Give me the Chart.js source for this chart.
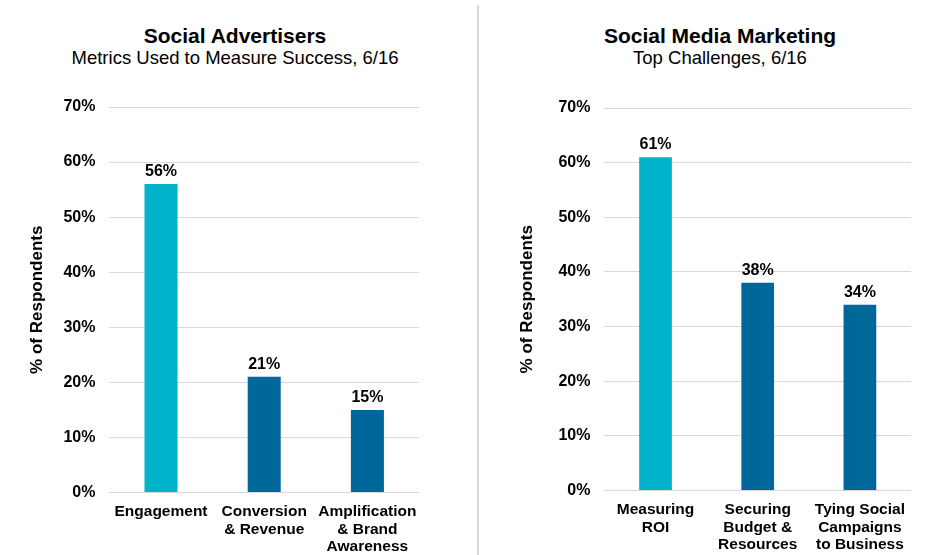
<!DOCTYPE html>
<html lang="en">
<head>
  <meta charset="UTF-8">
  <title>Social Advertisers / Social Media Marketing</title>
  <script src="https://cdn.jsdelivr.net/npm/chart.js"></script>
  <style>
    body { margin: 0; background: #fff; width: 932px; height: 555px; overflow: hidden; position: relative;
      font-family: 'Liberation Sans', Arial, sans-serif; color: #000; }
    .title { position: absolute; top: 23px; text-align: center; font-weight: bold; font-size: 21px; line-height: 25px; }
    .sub { position: absolute; top: 48px; text-align: center; font-size: 18.5px; line-height: 20px; }
    .box { position: absolute; top: 0; height: 566px; }
    .divider { position: absolute; left: 477px; top: 5px; width: 2px; height: 550px; background: #d9d9d9; }
  </style>
</head>
<body>
<div class="title" style="left:0;width:470px">Social Advertisers</div>
<div class="sub" style="left:0;width:470px">Metrics Used to Measure Success, 6/16</div>
<div class="title" style="left:520px;width:400px">Social Media Marketing</div>
<div class="sub" style="left:520px;width:400px">Top Challenges, 6/16</div>
<div class="divider"></div>
<div class="box" style="left:0;width:470px"><canvas id="chartLeft"></canvas></div>
<div class="box" style="left:478px;width:454px"><canvas id="chartRight"></canvas></div>

<script>
const metricLabels = [["Engagement"], ["Conversion", "& Revenue"], ["Amplification", "& Brand", "Awareness"]];
const metricValues = [56, 21, 15];
const challengeLabels = [["Measuring", "ROI"], ["Securing", "Budget &", "Resources"], ["Tying Social", "Campaigns", "to Business"]];
const challengeValues = [61, 38, 34];
const yTicks = [0, 10, 20, 30, 40, 50, 60, 70];

const CYAN = "#00b2ca", BLUE = "#00679b";
const FONT = "'Liberation Sans', Arial, sans-serif";

// draws "56%" etc. above each bar
const barValueLabels = {
  id: "barValueLabels",
  afterDatasetsDraw(chart) {
    const ctx = chart.ctx;
    const meta = chart.getDatasetMeta(0);
    ctx.save();
    ctx.font = "bold 16px " + FONT;
    ctx.fillStyle = "#000";
    ctx.textAlign = "center";
    ctx.textBaseline = "alphabetic";
    meta.data.forEach((bar, i) => {
      ctx.fillText(chart.data.datasets[0].data[i] + "%", bar.x, bar.y - 8);
    });
    ctx.restore();
  }
};

function makeChart(id, labels, values, pad, titlePad) {
  const ctx = document.getElementById(id).getContext("2d");
  return new Chart(ctx, {
    type: "bar",
    data: {
      labels: labels,
      datasets: [{
        data: values,
        backgroundColor: values.map((v, i) => i === 0 ? CYAN : BLUE),
        barPercentage: 0.32,
        categoryPercentage: 1
      }]
    },
    options: {
      responsive: true,
      maintainAspectRatio: false,
      animation: false,
      layout: { padding: pad },
      plugins: { legend: { display: false }, tooltip: { enabled: false } },
      scales: {
        x: {
          grid: { display: false, drawTicks: false },
          border: { display: false },
          ticks: {
            color: "#000", padding: 10, maxRotation: 0, autoSkip: false,
            font: { family: FONT, size: 15.5, weight: "bold", lineHeight: 1.15 }
          }
        },
        y: {
          min: 0, max: 70,
          afterBuildTicks: axis => { axis.ticks = yTicks.map(v => ({ value: v })); },
          grid: { color: "#d9d9d9", lineWidth: 1, drawTicks: false },
          border: { display: false },
          ticks: {
            color: "#000", padding: 14,
            font: { family: FONT, size: 16, weight: "bold" },
            callback: v => v + "%"
          },
          title: {
            display: true, text: "% of Respondents", color: "#000",
            font: { family: FONT, size: 17, weight: "bold", lineHeight: 1.2 },
            padding: titlePad
          }
        }
      }
    },
    plugins: [barValueLabels]
  });
}

makeChart("chartLeft", metricLabels, metricValues,
  { left: 0, right: 51, top: 107, bottom: 0 }, { top: 27, bottom: 2 });
makeChart("chartRight", challengeLabels, challengeValues,
  { left: 0, right: 21, top: 108, bottom: 2 }, { top: 39, bottom: 7 });
</script>
</body>
</html>
